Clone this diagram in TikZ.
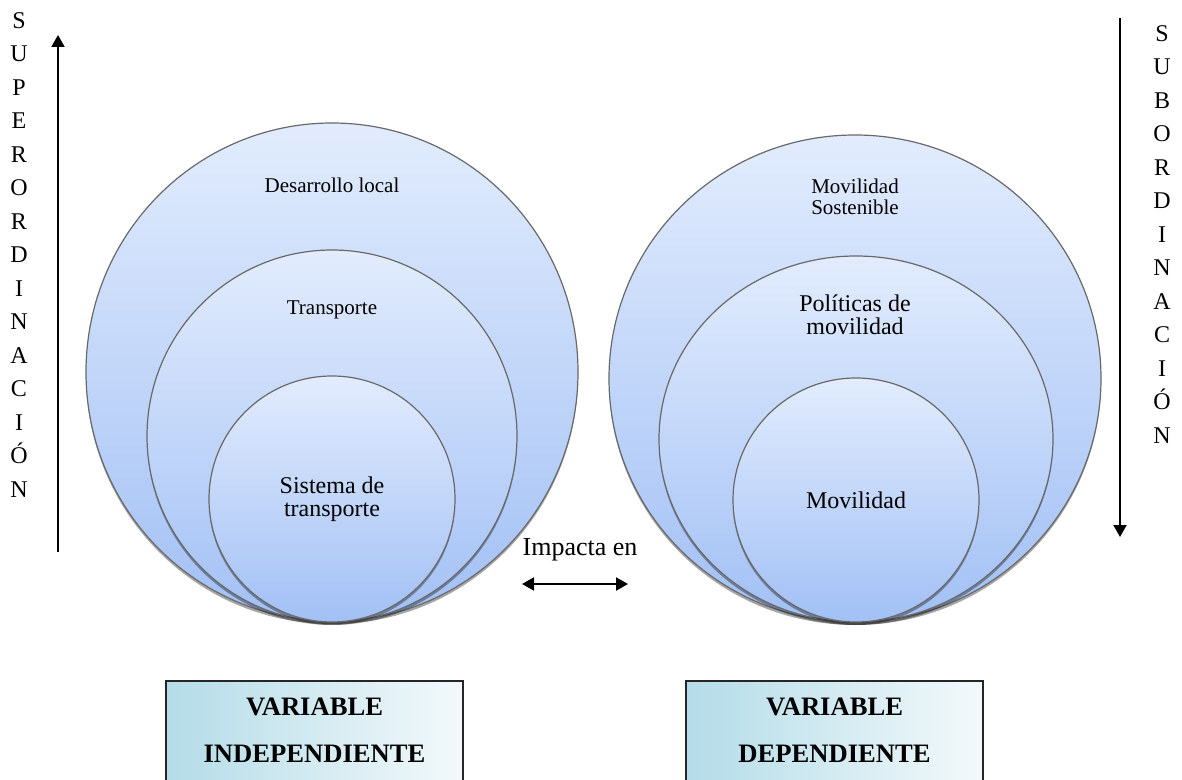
\documentclass[tikz,border=0pt]{standalone}
\usepackage{fontspec}
\setmainfont{Liberation Serif}
\usetikzlibrary{shapes.geometric,arrows.meta,shadows,positioning}

\definecolor{venntop}{RGB}{226,236,253}
\definecolor{vennbot}{RGB}{162,192,245}
\definecolor{vennline}{RGB}{105,105,105}
\definecolor{boxleft}{RGB}{180,220,232}
\definecolor{boxright}{RGB}{243,249,251}

\tikzset{
  venn/.style={ellipse, draw=vennline, line width=0.6pt, inner sep=0pt,
    top color=venntop, bottom color=vennbot,
    drop shadow={shadow xshift=0pt, shadow yshift=-1.5pt, opacity=0.35, fill=black}},
  vlabel/.style={align=center, inner sep=0pt, font=\fontsize{10.5}{10.5}\selectfont},
  vlabelbig/.style={align=center, inner sep=0pt, font=\fontsize{12}{11.5}\selectfont},
  varbox/.style={draw=black!85, line width=0.8pt, left color=boxleft, right color=boxright,
    minimum width=148.5pt, minimum height=70pt, anchor=north, inner sep=0pt},
  vartext/.style={align=center, inner sep=0pt, font=\bfseries\fontsize{13.3}{23.5}\selectfont},
  letters/.style={align=center, inner sep=0pt, anchor=north, font=\fontsize{12}{16.75}\selectfont},
  axisline/.style={line width=1pt, -{Triangle[length=6pt,width=6.5pt]}},
  bothline/.style={line width=1pt, {Triangle[length=6pt,width=6.5pt]}-{Triangle[length=6pt,width=6.5pt]}}
}

\begin{document}
\begin{tikzpicture}[x=0.5pt, y=-0.5pt]
\useasboundingbox (0,0) rectangle (1182,780);
\clip (0,0) rectangle (1182,780);

% independent variable
\node[venn, minimum width=246pt, minimum height=249pt] (dl) at (332,372) {};
\node[venn, minimum width=185pt, minimum height=186pt] (tr) at (332,436) {};
\node[venn, minimum width=123pt, minimum height=123pt] (st) at (332,499) {};
\node[vlabel] (dltxt) at (332,185) {Desarrollo local};
\node[vlabel] (trtxt) at (332,310) {Transporte};
\node[vlabelbig] (sttxt) at (332,499) {Sistema de\\transporte};

% dependent variable
\node[venn, minimum width=246pt, minimum height=243.5pt] (ms) at (855,378.5) {};
\node[venn, minimum width=197pt, minimum height=183pt] (pm) at (856,439) {};
\node[venn, minimum width=123pt, minimum height=122pt] (mv) at (856,500) {};
\node[vlabel] (mstxt) at (855,197) {Movilidad\\Sostenible};
\node[vlabelbig] (pmtxt) at (855,315) {Políticas de\\movilidad};
\node[vlabelbig] (mvtxt) at (856,500) {Movilidad};

% axes
\coordinate (supbot) at (58,552);
\coordinate (suptop) at (58,35);
\draw[axisline] (supbot) -- (suptop);
\node[letters] (sup) at (19,12) {S\\U\\P\\E\\R\\O\\R\\D\\I\\N\\A\\C\\I\\Ó\\N};
\coordinate (subtop) at (1120,18);
\coordinate (subbot) at (1120,537);
\draw[axisline] (subtop) -- (subbot);
\node[letters] (sub) at (1162,25) {S\\U\\B\\O\\R\\D\\I\\N\\A\\C\\I\\Ó\\N};

% impact
\node[inner sep=0pt, font=\fontsize{13}{13}\selectfont] (imp) at (580,550) {Impacta en};
\coordinate (impl) at (522,584);
\coordinate (impr) at (628,584);
\draw[bothline] (impl) -- (impr);

% variable boxes
\node[varbox] (vibox) at (314.5,680) {};
\node[vartext] (vitxt) at (314.5,730) {VARIABLE\\INDEPENDIENTE};
\node[varbox] (vdbox) at (834.5,680) {};
\node[vartext] (vdtxt) at (834.5,730) {VARIABLE\\DEPENDIENTE};
\end{tikzpicture}
\end{document}
